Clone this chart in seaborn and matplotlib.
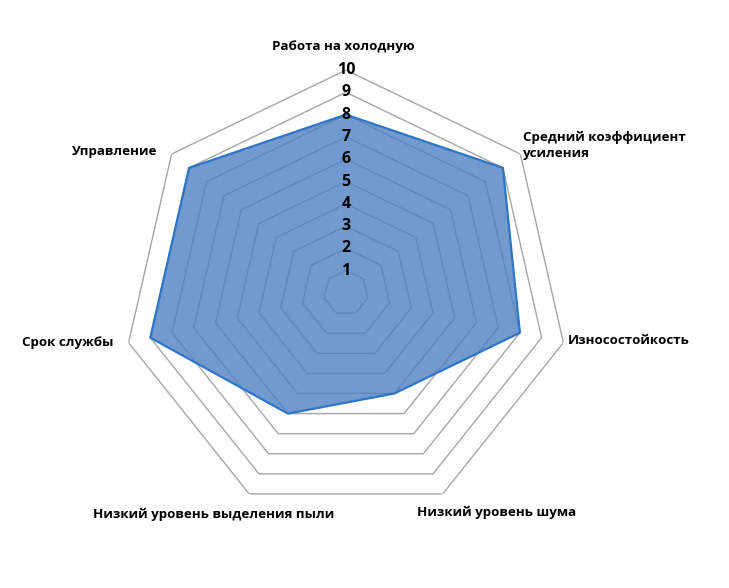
import numpy as np
import matplotlib
matplotlib.use("Agg")
import matplotlib.pyplot as plt
import seaborn as sns

# данные для лепестковой диаграммы
categories = ["Работа на холодную", "Средний коэффициент\nусиления", "Износостойкость",
              "Низкий уровень шума", "Низкий уровень выделения пыли", "Срок службы",
              "Управление"]
values = [8, 9, 8, 5, 6, 9, 9]
levels = [1, 2, 3, 4, 5, 6, 7, 8, 9, 10]

sns.set_theme(style="white")
plt.rcParams['font.family'] = ['Open Sans', 'DejaVu Sans']

n = len(categories)
angles = np.linspace(0, 2 * np.pi, n, endpoint=False)
ang_closed = np.append(angles, angles[0])

fig = plt.figure(figsize=(7.29, 5.88), dpi=100)
ax = fig.add_axes([0.1687, 0.1224, 0.6118, 0.7585], projection='polar')
ax.set_theta_offset(np.pi / 2)
ax.set_theta_direction(-1)
ax.set_ylim(0, 10)
ax.grid(False)
ax.spines['polar'].set_visible(False)
ax.set_xticks([])
ax.set_yticks([])
ax.set_facecolor('white')

# сетка в виде семиугольников
for lv in levels:
    ax.plot(ang_closed, [lv] * (n + 1), color='#a6a6a6', lw=1.0, zorder=1)

vals_closed = values + values[:1]
ax.fill(ang_closed, vals_closed, color='#4f81c4', alpha=0.8, zorder=2, lw=0)
ax.plot(ang_closed, vals_closed, color='#2e75c8', lw=1.6, zorder=3)

# подписи шкалы
for lv in levels:
    ax.text(0, lv, str(lv), ha='center', va='center', fontsize=11.5, fontweight='bold',
            color='black', zorder=4)

# подписи осей
offsets = [(-3, 24, 'center'), (3, 9, 'left'), (4, 2, 'left'), (54, -18, 'center'),
           (-36, -20, 'center'), (-15, 0, 'right'), (-14, 2, 'right')]
for ang, lab, (dx, dy, ha) in zip(angles, categories, offsets):
    ax.annotate(lab, xy=(ang, 10), xytext=(dx, dy), textcoords='offset pixels',
                ha=ha, va='center', fontsize=9.6, fontweight='bold', color='black',
                linespacing=1.3, annotation_clip=False)

fig.savefig("out.png", dpi=100, facecolor='white')
